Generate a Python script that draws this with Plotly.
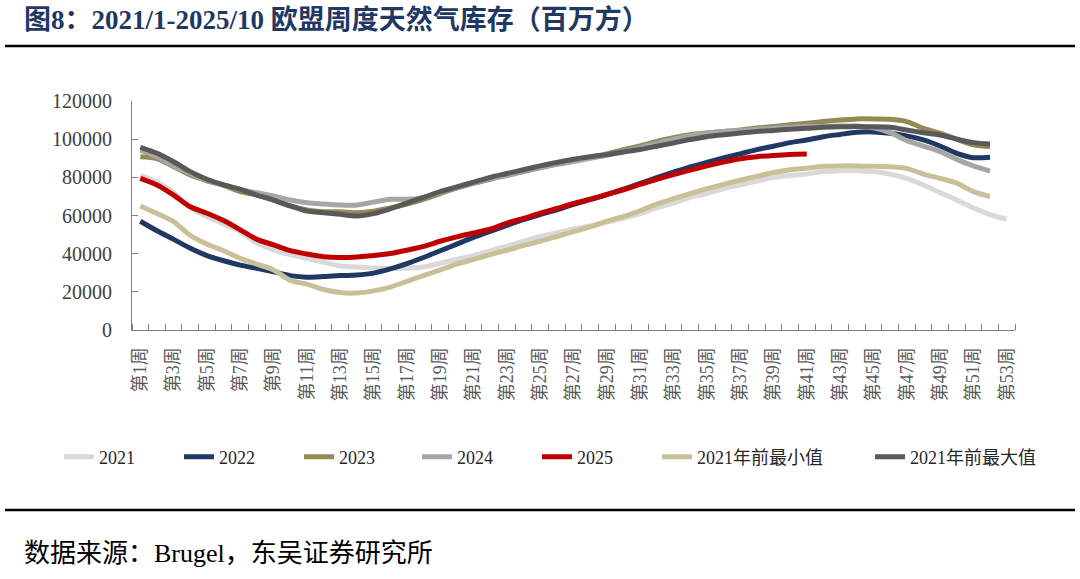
import plotly.graph_objects as go

# ---------------- data ----------------
weeks = list(range(1, 54))
week_labels = [f"第{i}周" for i in weeks]
tick_weeks = [w for w in weeks if w % 2 == 1]
tick_labels = [f"第{w}周" for w in tick_weeks]

s2021 = [81000, 77500, 72000, 64000, 59500, 55500, 51500, 45500, 42000, 39500,
         37500, 35500, 33500, 33000, 32500, 32300, 32300, 33000, 35000, 37000,
         39000, 41500, 44000, 46500, 49000, 51000, 53000, 54500, 56500, 58500,
         61000, 64000, 66500, 69500, 71500, 74000, 76000, 78000, 80000, 81000,
         81800, 83000, 83500, 83500, 83000, 81700, 79500, 76000, 72000, 68100,
         64000, 60500, 58100]
s2022 = [57000, 52000, 47500, 42800, 39000, 36300, 34000, 32300, 30500, 28500,
         27700, 28000, 28500, 28800, 29800, 32000, 34800, 38000, 41500, 45000,
         48500, 51700, 54800, 57800, 60500, 63000, 65800, 68300, 71000, 73800,
         76800, 79800, 82700, 85500, 87800, 90200, 92300, 94500, 96300, 98200,
         99600, 101300, 102500, 103600, 103800, 103100, 101700, 99600, 96400, 92600,
         90300, 90500, None]
s2023 = [90800, 89800, 85600, 81200, 78200, 75800, 72500, 70700, 68000, 65000,
         62900, 62000, 62000, 61500, 62300, 63900, 66000, 68500, 71500, 74300,
         76800, 79000, 81000, 83000, 85000, 86800, 88500, 90500, 92300, 94500,
         96500, 98800, 100800, 102300, 103200, 104000, 104800, 105800, 106600, 107600,
         108300, 109200, 110000, 110600, 110600, 110400, 109200, 105700, 103100, 100000,
         97000, 96100, None]
s2024 = [94300, 90800, 85900, 82100, 78600, 76000, 73700, 71900, 70200, 68100,
         66700, 66000, 65500, 65500, 67000, 68500, 68500, 69500, 72000, 74500,
         77000, 79300, 81300, 83300, 85300, 86800, 88300, 90000, 91500, 93500,
         95500, 97800, 100000, 101800, 103100, 104000, 104500, 105200, 105700, 106300,
         106600, 106700, 106900, 106900, 105900, 103400, 99200, 96400, 93500, 89400,
         86000, 83300, None]
s2025 = [79500, 76000, 70700, 64600, 61200, 57400, 52500, 47500, 44600, 41600,
         39800, 38400, 38000, 38300, 39000, 40100, 41800, 43800, 46500, 48800,
         50800, 52800, 56000, 58500, 61200, 63700, 66300, 68500, 71000, 73500,
         76300, 79000, 81500, 83800, 86000, 88000, 89700, 90800, 91500, 92000,
         92200] + [None] * 12
s_min = [65000, 61000, 56800, 49500, 45000, 41500, 37500, 34500, 31500, 26000,
         24000, 21200, 19600, 19400, 20500, 22500, 25500, 28500, 31500, 34500,
         37000, 39500, 41800, 44300, 46500, 49000, 51500, 54000, 57000, 59500,
         62500, 66000, 68800, 71500, 74000, 76300, 78500, 80500, 82500, 84000,
         84800, 85800, 86000, 86000, 85800, 85500, 84700, 81700, 79500, 77000,
         72500, 69900, None]
s_max = [95700, 92600, 88200, 83000, 79000, 76000, 73700, 70700, 68100, 65000,
         62300, 61500, 60600, 59700, 61000, 63500, 66500, 69500, 72500, 75000,
         77500, 80000, 82000, 84000, 86000, 87800, 89500, 90800, 91900, 93300,
         94600, 96300, 98000, 99800, 101300, 102300, 103200, 104000, 104600, 105200,
         105700, 106200, 106500, 106600, 106500, 106200, 104800, 103400, 102200, 100000,
         98200, 97500, None]

series_names = ["2021", "2022", "2023", "2024", "2025", "2021年前最小值", "2021年前最大值"]
series_values = [s2021, s2022, s2023, s2024, s2025, s_min, s_max]
y_ticks = [0, 20000, 40000, 60000, 80000, 100000, 120000]

title_text = "图8：2021/1-2025/10 欧盟周度天然气库存（百万方）"
source_text = "数据来源：Brugel，东吴证券研究所"

# ---------------- style ----------------
colors = ["#D9D9D9", "#1F3864", "#948A54", "#A6A6A6", "#C00000", "#C9C09A", "#595959"]
SERIF = "Liberation Serif, Times New Roman, Noto Sans CJK SC, serif"

W, H = 1080, 579
L, R, T, B = 132, 65, 101, 249
PW = W - L - R
PH = H - T - B

def px2x(px):
    return (px - L) / PW

def py2y(py):
    return (H - B - py) / PH

legend_text_starts = [100, 220, 340, 458, 578, 698, 911]

fig = go.Figure()
legend_layouts = {}
for i, (name, vals, col) in enumerate(zip(series_names, series_values, colors)):
    lg = "legend" if i == 0 else f"legend{i+1}"
    fig.add_trace(go.Scatter(
        x=weeks, y=vals, name=name, mode="lines",
        line=dict(color=col, width=5, shape="spline", smoothing=0.8),
        connectgaps=False, legend=lg,
        hovertemplate="%{y}<extra>" + name + "</extra>",
    ))
    legend_layouts[lg] = dict(
        x=px2x(legend_text_starts[i] - 41), y=py2y(457),
        xanchor="left", yanchor="middle", orientation="h",
        bgcolor="rgba(0,0,0,0)", borderwidth=0,
        font=dict(family=SERIF, size=18, color="#262626"),
    )

fig.update_layout(
    width=W, height=H,
    margin=dict(l=L, r=R, t=T, b=B),
    paper_bgcolor="white", plot_bgcolor="white",
    showlegend=True,
    **legend_layouts,
)

fig.update_xaxes(
    range=[0.5, 53.5], tickmode="array", tickvals=tick_weeks, ticktext=tick_labels,
    tickangle=-90, ticks="", showgrid=False, zeroline=False,
    showline=True, linecolor="#808080", linewidth=1,
    tickfont=dict(family=SERIF, size=18, color="#595959"),
    ticklabelstandoff=9,
    minor=dict(tickmode="linear", tick0=0.5, dtick=1, ticks="inside",
               ticklen=6, tickcolor="#808080", tickwidth=1, showgrid=False),
)
fig.update_yaxes(
    range=[0, 120000], tickmode="array", tickvals=y_ticks,
    ticktext=[str(v) for v in y_ticks],
    ticks="inside", ticklen=6, tickcolor="#808080",
    showgrid=False, zeroline=False,
    showline=True, linecolor="#808080", linewidth=1,
    tickfont=dict(family=SERIF, size=20, color="#404040"),
    ticklabelstandoff=15,
)

# title, rules and source
fig.add_annotation(text=title_text, xref="paper", yref="paper",
                   x=px2x(22), y=py2y(20), xanchor="left", yanchor="middle",
                   showarrow=False,
                   font=dict(family=SERIF, size=27, color="#1F3864", weight="bold"))
fig.add_annotation(text=source_text, xref="paper", yref="paper",
                   x=px2x(22), y=py2y(553), xanchor="left", yanchor="middle",
                   showarrow=False,
                   font=dict(family=SERIF, size=26, color="#000000"))
for py in (46, 510):
    fig.add_shape(type="line", xref="paper", yref="paper",
                  x0=px2x(5), x1=px2x(1075), y0=py2y(py), y1=py2y(py),
                  line=dict(color="#000000", width=2.5))

fig.write_html("out.html", config={"displayModeBar": False},
               post_script="document.body.style.margin='0';document.body.style.overflow='hidden';")
